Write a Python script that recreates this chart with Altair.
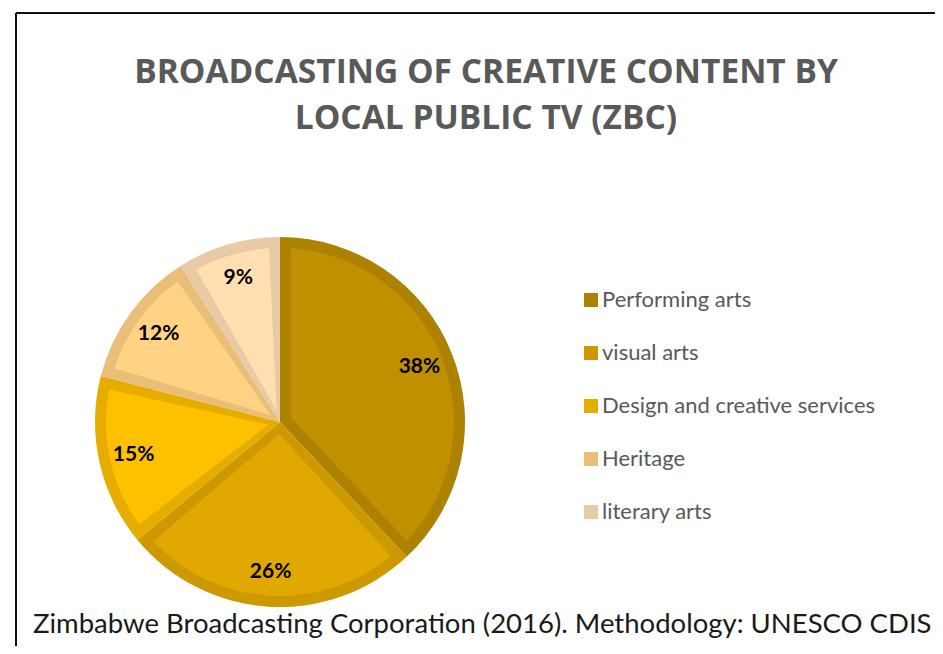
import altair as alt
import pandas as pd

categories = ["Performing arts", "visual arts", "Design and creative services", "Heritage", "literary arts"]
values = [38, 26, 15, 12, 9]
band_colors = ["#AD8200", "#CC9900", "#E6AC00", "#E8BE78", "#E8CBA6"]
fill_colors = ["#C09000", "#E0A800", "#FFC000", "#FFD284", "#FFDFB0"]
title_lines = ["BROADCASTING OF CREATIVE CONTENT BY", "LOCAL PUBLIC TV (ZBC)"]
caption = "Zimbabwe Broadcasting Corporation (2016). Methodology: UNESCO CDIS"

df = pd.DataFrame({"category": categories, "value": values, "order": list(range(len(categories)))})
df["label"] = df["value"].astype(str) + "%"

W, H = 927, 638
CX, CY = 272, 414
R = 185
BAND = 11

base = alt.Chart(df).encode(
    theta=alt.Theta("value:Q", stack=True),
    order=alt.Order("order:Q"),
    x=alt.value(CX),
    y=alt.value(CY),
)

outer = base.mark_arc(outerRadius=R).encode(
    color=alt.Color(
        "category:N",
        sort=categories,
        scale=alt.Scale(domain=categories, range=band_colors),
        legend=alt.Legend(
            title=None,
            orient="none",
            legendX=572,
            legendY=281,
            symbolType="square",
            symbolSize=196,
            symbolStrokeWidth=0,
            symbolOpacity=1,
            labelFont="Lato",
            labelFontSize=22,
            labelColor="#595959",
            labelOffset=0,
            rowPadding=31,
            padding=0,
            labelLimit=400,
        ),
    )
)

inner_r = 12
pad_r = (inner_r ** 2 + (R - BAND) ** 2) ** 0.5
inner = base.mark_arc(
    outerRadius=R - BAND, innerRadius=inner_r, padAngle=2 * BAND / pad_r
).encode(
    fill=alt.Fill(
        "category:N",
        sort=categories,
        scale=alt.Scale(domain=categories, range=fill_colors),
        legend=None,
    )
)

labels = base.mark_text(
    radius=150, font="Lato", fontSize=21, fontWeight="bold", color="#000000"
).encode(text="label:N")

dummy = pd.DataFrame({"k": [0]})

title = alt.Chart(dummy).mark_text(
    text=title_lines,
    font="Open Sans",
    fontSize=33.5,
    fontWeight="bold",
    color="#595959",
    align="center",
    baseline="middle",
    lineHeight=46,
).encode(x=alt.value(478), y=alt.value(65))

cap = alt.Chart(dummy).mark_text(
    text=caption,
    font="Lato",
    fontSize=27.5,
    color="#1a1a1a",
    align="left",
    baseline="middle",
).encode(x=alt.value(25), y=alt.value(617))

frame_top = alt.Chart(dummy).mark_rule(color="#111111", strokeWidth=2).encode(
    x=alt.value(8), x2=alt.value(W), y=alt.value(5)
)
frame_left = alt.Chart(dummy).mark_rule(color="#111111", strokeWidth=2).encode(
    x=alt.value(8), y=alt.value(5), y2=alt.value(H)
)

chart = alt.layer(frame_top, frame_left, outer, inner, labels, title, cap).resolve_scale(
    color="independent", fill="independent"
).properties(
    width=W,
    height=H,
    padding=0,
    autosize=alt.AutoSizeParams(type="none"),
    background="white",
).configure_view(stroke=None)

chart.save("out.html", embed_options={"renderer": "svg", "actions": False})
